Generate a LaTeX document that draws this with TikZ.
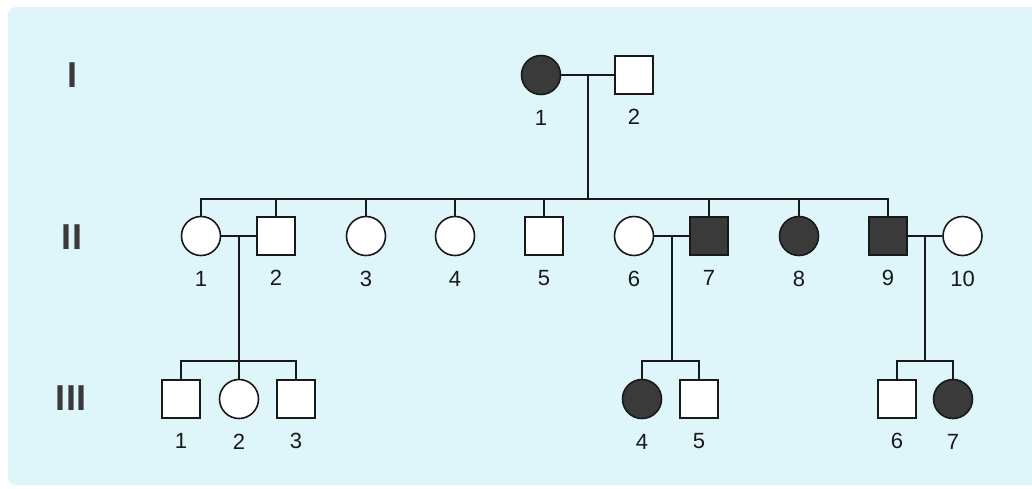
\documentclass[tikz,border=0pt]{standalone}
\usepackage{fontspec}
\setmainfont{Liberation Sans}
\usepackage{tikz}
\usetikzlibrary{positioning}
\usepackage{xcolor}
\definecolor{panel}{RGB}{222,246,250}
\definecolor{sick}{RGB}{58,58,58}
\definecolor{ink}{RGB}{25,25,25}

\begin{document}
\begin{tikzpicture}[x=1pt, y=-1pt, line width=1.5pt, ink]
\useasboundingbox (0,0) rectangle (1032,488);
\fill[panel, rounded corners=8pt] (8,7) rectangle (1045,485);
\tikzstyle{every node} = [inner sep=0pt]
\tikzstyle{female} = [circle, draw, fill=white, minimum size=39pt, line width=1.6pt]
\tikzstyle{male} = [rectangle, draw, fill=white, minimum size=38pt, line width=1.6pt]
\tikzstyle{affected} = [fill=sick]
\tikzstyle{num} = [font=\fontsize{22}{22}\selectfont, text=ink]
\tikzstyle{gen} = [font=\fontsize{36}{36}\selectfont\bfseries, text=sick]
% generations
\node[gen] (g1) at (72,75) {I};
\node[gen] (g2) at (72,237) {II};
\node[gen] (g3) at (71,398) {III};
% generation I
\node[female, affected] (i1) at (541,75) {};
\node[male] (i2) at (634,75) {};
% generation II
\node[female] (a1) at (201,236) {};
\node[male] (a2) at (276,236) {};
\node[female] (a3) at (366,236) {};
\node[female] (a4) at (455,236) {};
\node[male] (a5) at (544,236) {};
\node[female] (a6) at (634,236) {};
\node[male, affected] (a7) at (709,236) {};
\node[female, affected] (a8) at (799,236) {};
\node[male, affected] (a9) at (888,236) {};
\node[female] (a10) at (962.5,236) {};
% generation III
\node[male] (b1) at (181,399) {};
\node[female] (b2) at (239,399) {};
\node[male] (b3) at (296,399) {};
\node[female, affected] (b4) at (642,399) {};
\node[male] (b5) at (699,399) {};
\node[male] (b6) at (897,399) {};
\node[female, affected] (b7) at (953,399) {};
% numbers
\node[num, below=14pt of i1] (ni1) {1};
\node[num, below=14pt of i2] (ni2) {2};
\node[num, below=14pt of a1] (na1) {1};
\node[num, below=14pt of a2] (na2) {2};
\node[num, below=14pt of a3] (na3) {3};
\node[num, below=14pt of a4] (na4) {4};
\node[num, below=14pt of a5] (na5) {5};
\node[num, below=14pt of a6] (na6) {6};
\node[num, below=14pt of a7] (na7) {7};
\node[num, below=14pt of a8] (na8) {8};
\node[num, below=14pt of a9] (na9) {9};
\node[num, below=14pt of a10] (na10) {10};
\node[num, below=14pt of b1] (nb1) {1};
\node[num, below=14pt of b2] (nb2) {2};
\node[num, below=14pt of b3] (nb3) {3};
\node[num, below=14pt of b4] (nb4) {4};
\node[num, below=14pt of b5] (nb5) {5};
\node[num, below=14pt of b6] (nb6) {6};
\node[num, below=14pt of b7] (nb7) {7};
% couples
\draw (i1) to coordinate[midway](m1) (i2);
\draw (a1) to coordinate[midway](m2) (a2);
\draw (a6) to coordinate[midway](m3) (a7);
\draw (a9) to coordinate[midway](m4) (a10);
% children of I
\draw (m1) -- (m1 |- 0,199) coordinate (s1);
\draw (a1) |- (s1) -| (a9);
\draw (a2) -- (a2 |- s1);
\draw (a3) -- (a3 |- s1);
\draw (a4) -- (a4 |- s1);
\draw (a5) -- (a5 |- s1);
\draw (a7) -- (a7 |- s1);
\draw (a8) -- (a8 |- s1);
% children of II
\draw (m2) -- (m2 |- b2.north);
\draw (b1) |- (m2 |- 0,361) -| (b3);
\draw (m3) -- (m3 |- 0,361) coordinate (s3);
\draw (b4) |- (s3) -| (b5);
\draw (m4) -- (m4 |- 0,361) coordinate (s4);
\draw (b6) |- (s4) -| (b7);
\end{tikzpicture}
\end{document}
